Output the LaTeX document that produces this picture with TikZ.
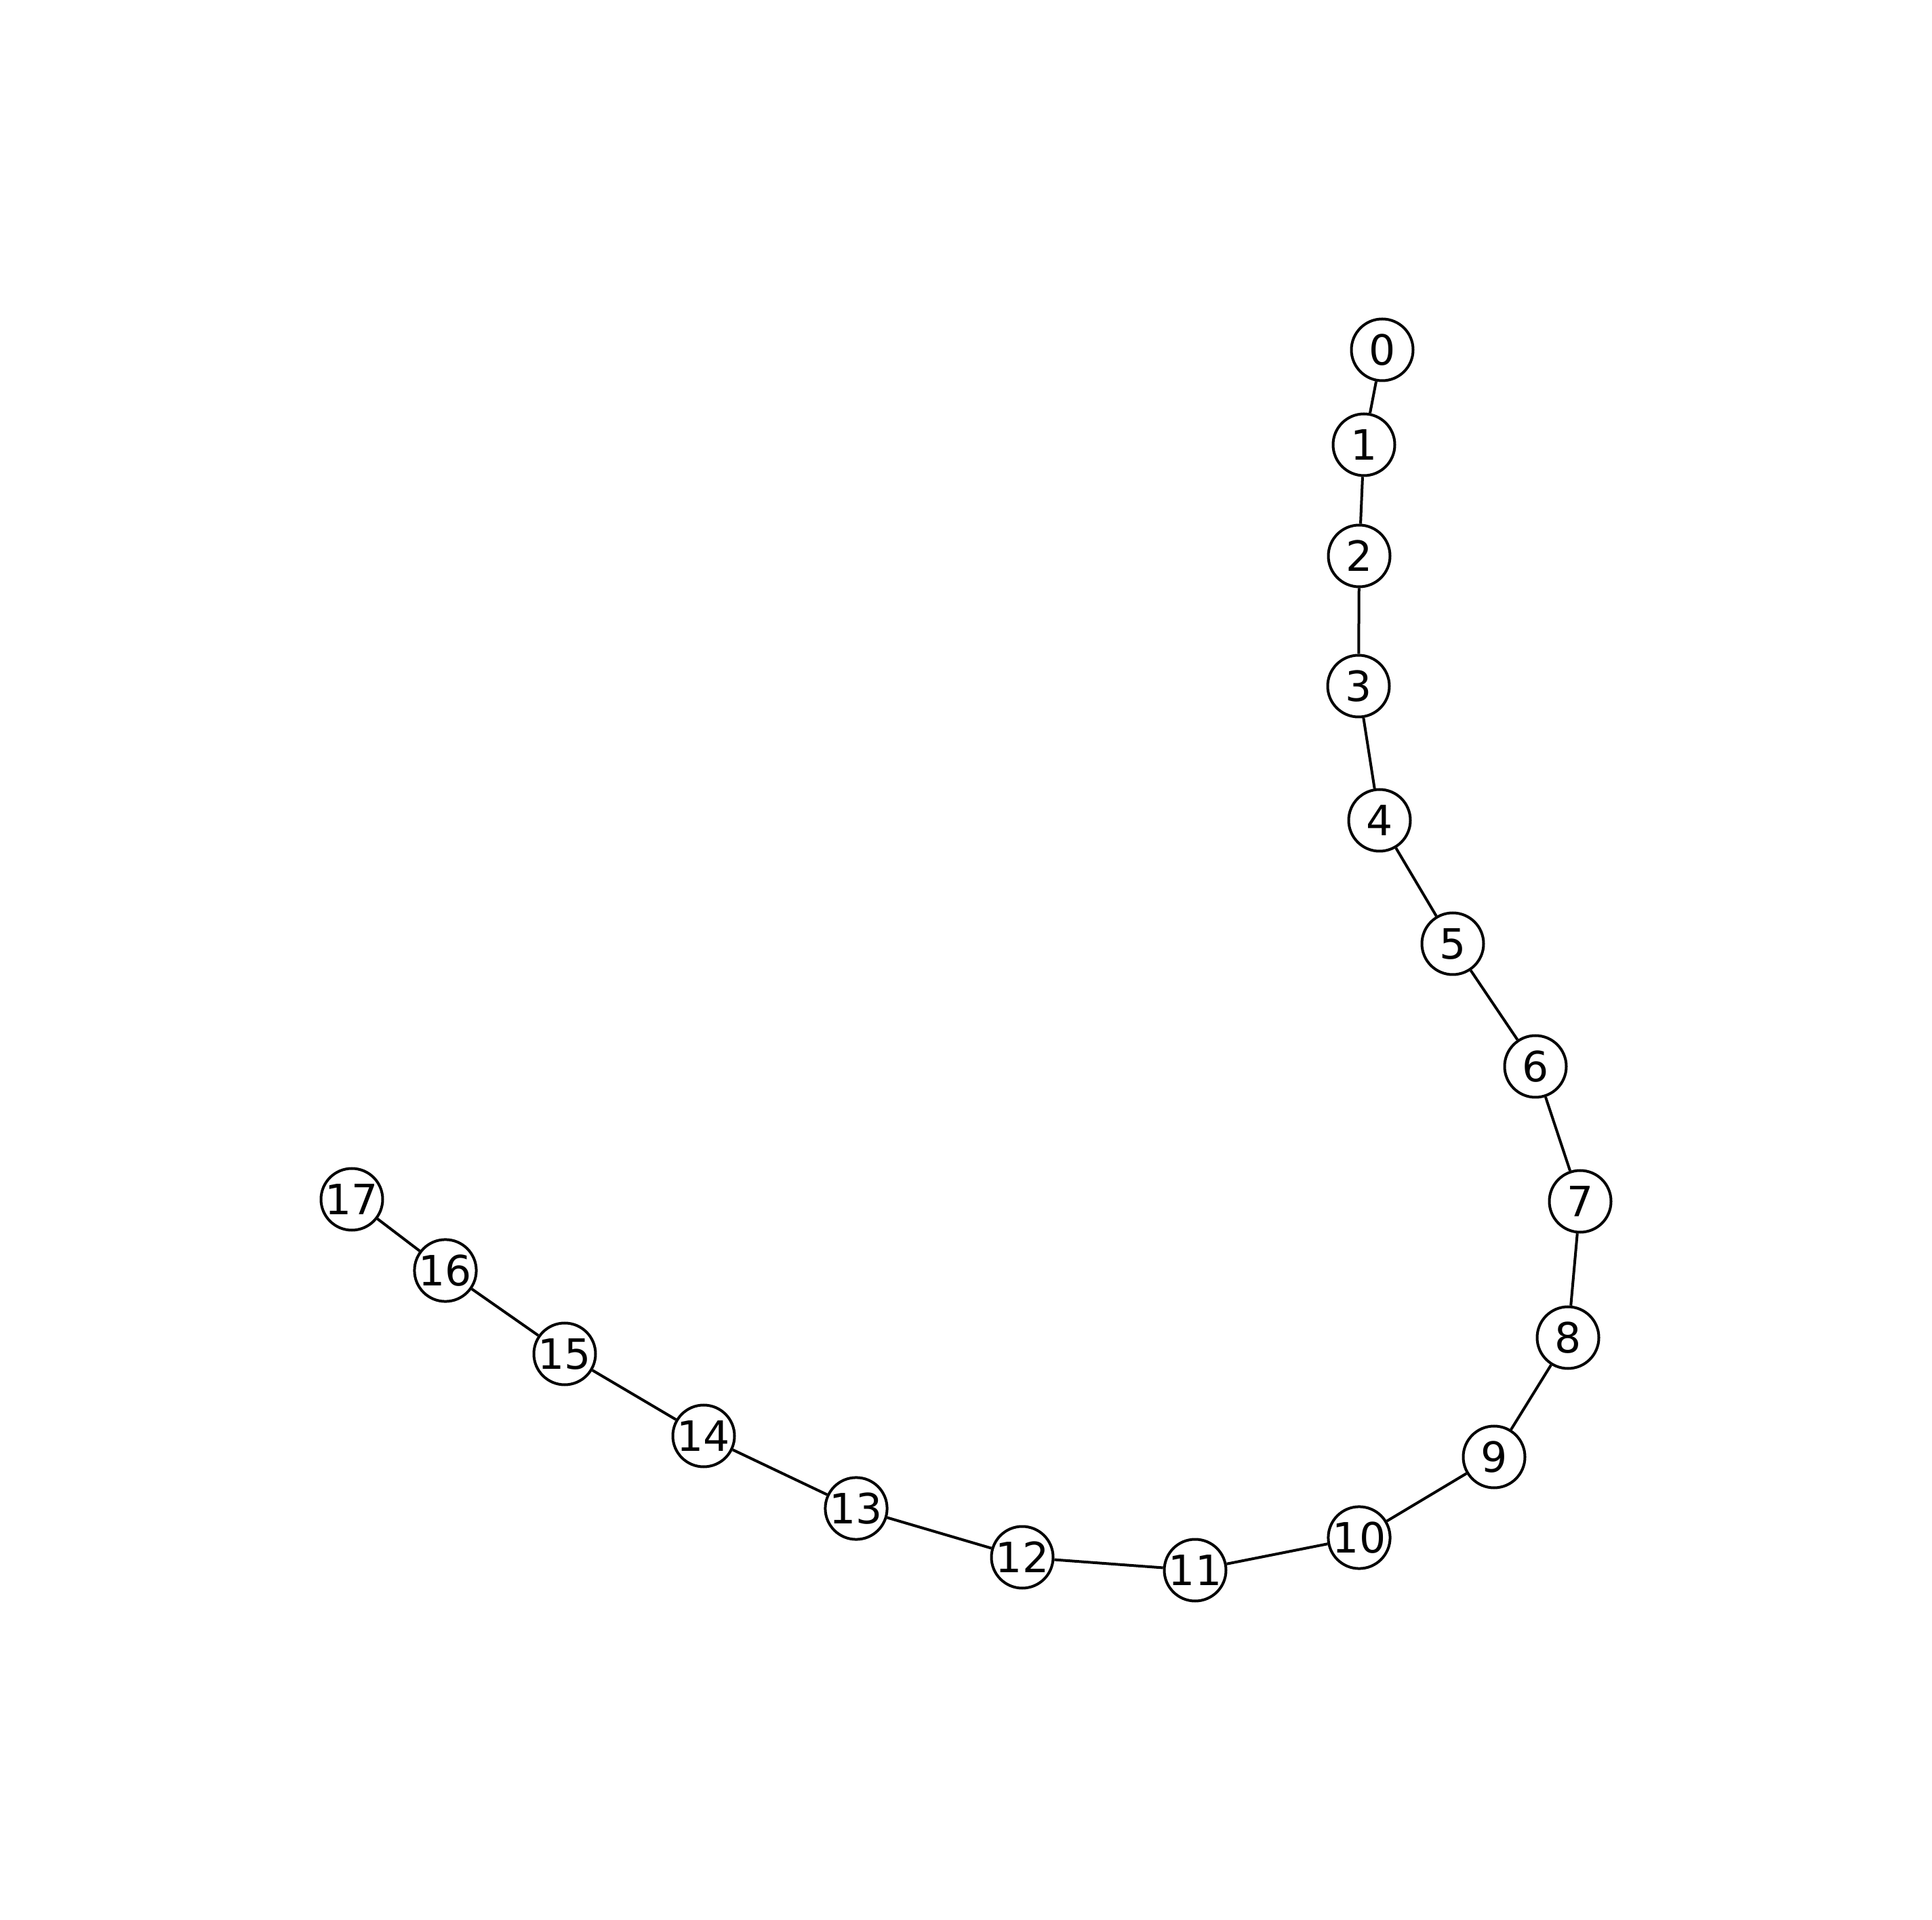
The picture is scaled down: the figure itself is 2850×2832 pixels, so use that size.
\documentclass[tikz,border=0pt]{standalone}
\usepackage{fontspec}
\setmainfont{DejaVu Sans}
\begin{document}
\begin{tikzpicture}[x=0.25pt,y=-0.25pt,
  vert/.style={circle,draw=black,fill=white,line width=1pt,minimum size=22.75pt,inner sep=0pt,font=\fontsize{15.4pt}{16pt}\selectfont},
  edge/.style={draw=black,line width=1pt}]
\useasboundingbox (0,0) rectangle (2850,2832);
\node[vert] (n0) at (2039,516) {0};
\node[vert] (n1) at (2012,656) {1};
\node[vert] (n2) at (2005,820) {2};
\node[vert] (n3) at (2004,1012) {3};
\node[vert] (n4) at (2035,1210) {4};
\node[vert] (n5) at (2143,1392) {5};
\node[vert] (n6) at (2265,1573) {6};
\node[vert] (n7) at (2331,1772) {7};
\node[vert] (n8) at (2313,1973) {8};
\node[vert] (n9) at (2204,2149) {9};
\node[vert] (n10) at (2005,2268) {10};
\node[vert] (n11) at (1763,2316) {11};
\node[vert] (n12) at (1508,2297) {12};
\node[vert] (n13) at (1263,2225) {13};
\node[vert] (n14) at (1038,2118) {14};
\node[vert] (n15) at (833,1997) {15};
\node[vert] (n16) at (657,1874) {16};
\node[vert] (n17) at (519,1769) {17};
\foreach \a/\b in {0/1,1/2,2/3,3/4,4/5,5/6,6/7,7/8,8/9,9/10,10/11,11/12,12/13,13/14,14/15,15/16,16/17}
  \draw[edge] (n\a) -- (n\b);
\end{tikzpicture}
\end{document}
